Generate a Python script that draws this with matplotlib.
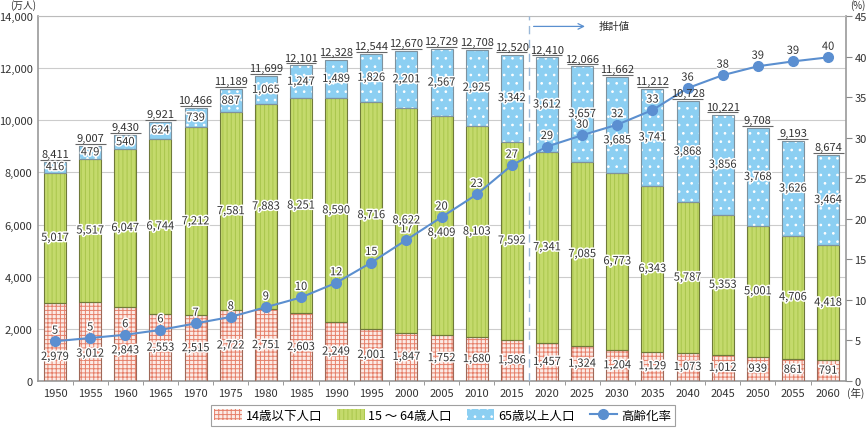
import numpy as np
import matplotlib
matplotlib.use("Agg")
import matplotlib.pyplot as plt
import matplotlib.patheffects as pe
from matplotlib.patches import Patch
from matplotlib.lines import Line2D

plt.rcParams['font.family'] = ['Noto Sans CJK JP', 'DejaVu Sans']
plt.rcParams['hatch.linewidth'] = 0.7

# data (万人, %)
years = [1950, 1955, 1960, 1965, 1970, 1975, 1980, 1985, 1990, 1995, 2000, 2005,
         2010, 2015, 2020, 2025, 2030, 2035, 2040, 2045, 2050, 2055, 2060]
under14 = [2979, 3012, 2843, 2553, 2515, 2722, 2751, 2603, 2249, 2001, 1847, 1752,
           1680, 1586, 1457, 1324, 1204, 1129, 1073, 1012, 939, 861, 791]
age15_64 = [5017, 5517, 6047, 6744, 7212, 7581, 7883, 8251, 8590, 8716, 8622, 8409,
            8103, 7592, 7341, 7085, 6773, 6343, 5787, 5353, 5001, 4706, 4418]
over65 = [416, 479, 540, 624, 739, 887, 1065, 1247, 1489, 1826, 2201, 2567,
          2925, 3342, 3612, 3657, 3685, 3741, 3868, 3856, 3768, 3626, 3464]
totals = [8411, 9007, 9430, 9921, 10466, 11189, 11699, 12101, 12328, 12544, 12670, 12729,
          12708, 12520, 12410, 12066, 11662, 11212, 10728, 10221, 9708, 9193, 8674]
aging_rate = [4.9, 5.3, 5.7, 6.3, 7.1, 7.9, 9.1, 10.3, 12.1, 14.6, 17.4, 20.2,
              23.0, 26.6, 28.9, 30.3, 31.6, 33.4, 36.1, 37.7, 38.8, 39.4, 39.9]
rate_labels = [5, 5, 6, 6, 7, 8, 9, 10, 12, 15, 17, 20, 23, 27, 29, 30, 32, 33, 36, 38, 39, 39, 40]

x = np.array(years, dtype=float)
u = np.array(under14, dtype=float)
m = np.array(age15_64, dtype=float)
o = np.array(over65, dtype=float)

fig = plt.figure(figsize=(8.66, 4.31), dpi=100)
ax = fig.add_axes([0.0439, 0.1137, 0.9331, 0.8469])
ax2 = ax.twinx()

w = 3.13
halo = [pe.withStroke(linewidth=2.2, foreground='white')]

red_style = ('#fcebe6', '++++', '#e6806a')
green_style = ('#c4da6c', '||||', '#a9c64c')
blue_style = ('#8ccff2', '..', 'white')

segs = [
    (u, np.zeros_like(u), red_style, '#a06858'),
    (m, u, green_style, '#6f7a3a'),
    (o, u + m, blue_style, '#7f929e'),
]
for vals, bot, (face, hatch, hcol), ecol in segs:
    ax.bar(x, vals, w, bottom=bot, color=face, hatch=hatch, edgecolor=hcol,
           linewidth=0, zorder=2)
    ax.bar(x, vals, w, bottom=bot, fill=False, edgecolor=ecol, linewidth=0.8, zorder=3)

ax.set_xlim(1947.58, 2062.56)
ax.set_ylim(0, 14000)
ax.set_yticks(np.arange(0, 14001, 2000))
ax.set_yticklabels([f'{v:,}' for v in range(0, 14001, 2000)])
ax.grid(axis='y', color='#cccccc', linewidth=0.8, zorder=0)
ax.set_axisbelow(True)
ax.set_xticks(years)
ax.set_xticks(x[:-1] + 2.5, minor=True)
ax.tick_params(axis='x', which='major', length=0, pad=5, labelsize=8, colors='#333333')
ax.tick_params(axis='x', which='minor', length=3, color='#888888')
ax.tick_params(axis='y', length=0, pad=4, labelsize=8, colors='#333333')
for s in ['left', 'bottom', 'right']:
    ax.spines[s].set_color('#999999')
    ax.spines[s].set_linewidth(1.2)
ax.spines['top'].set_color('#bbbbbb')

ax2.set_ylim(0, 45)
ax2.set_yticks(np.arange(0, 46, 5))
ax2.tick_params(axis='y', length=4, pad=2, labelsize=8, colors='#333333', color='#888888')
for s in ax2.spines.values():
    s.set_visible(False)

# projection marker
ax.axvline(2017.5, color='#9ab8d8', linestyle=(0, (6, 4)), linewidth=1, zorder=4)
ax.annotate('', xy=(2025.8, 13600), xytext=(2017.7, 13600),
            arrowprops=dict(arrowstyle='->', color='#5a8fcf', lw=0.9))
ax.text(2027.3, 13600, '推計値', fontsize=7.5, va='center', ha='left', color='#333333')

# aging rate line
ax2.plot(x, aging_rate, color='#5b8fcf', linewidth=1.5, marker='o', markersize=7,
         markerfacecolor='#5b8fd1', markeredgecolor='#5b8fd1', zorder=5)
for xi, r, lab in zip(x, aging_rate, rate_labels):
    ax2.annotate(str(lab), (xi, r), xytext=(0, 4), textcoords='offset points',
                 ha='center', va='bottom', fontsize=8, color='#333333', path_effects=halo,
                 zorder=6)

# segment labels
rate_eq = np.array(aging_rate) * 14000 / 45
for vals, bot in [(u, np.zeros_like(u)), (m, u), (o, u + m)]:
    for xi, v, b, req in zip(x, vals, bot, rate_eq):
        yc = b + v / 2
        if abs(req - yc) < 650:
            yc = req - 600 if req >= yc else req + 600
        ax2.text(xi, yc, f'{int(v):,}', transform=ax.transData, ha='center', va='center',
                 fontsize=8, color='#333333', path_effects=halo, zorder=7)

# totals with underline
for xi, t in zip(x, totals):
    ax.hlines(t + 80, xi - 2.2, xi + 2.2, color='#666666', linewidth=0.8, zorder=4)
    ax2.text(xi, t + 110, f'{t:,}', transform=ax.transData, ha='center', va='bottom',
             fontsize=8, color='#333333', zorder=7)

fig.text(0.012, 0.999, '(万人)', fontsize=7, ha='left', va='top', color='#333333')
fig.text(0.999, 0.999, '(%)', fontsize=7, ha='right', va='top', color='#333333')
fig.text(0.998, 0.088, '(年)', fontsize=7.5, ha='right', va='center', color='#333333')

handles = [
    Patch(facecolor=red_style[0], hatch=red_style[1], edgecolor=red_style[2], linewidth=0),
    Patch(facecolor=green_style[0], hatch=green_style[1], edgecolor=green_style[2], linewidth=0),
    Patch(facecolor=blue_style[0], hatch=blue_style[1], edgecolor=blue_style[2], linewidth=0),
    Line2D([0], [0], color='#5b8fcf', linewidth=1.5, marker='o', markersize=7),
]
leg = fig.legend(handles, ['14歳以下人口', '15 ～ 64歳人口', '65歳以上人口', '高齢化率'],
                 loc='center', bbox_to_anchor=(0.511, 0.034), ncol=4, fontsize=9,
                 frameon=True, fancybox=False, edgecolor='#888888', handlelength=2.2,
                 handleheight=0.9, handletextpad=0.3, columnspacing=1.2,
                 borderpad=0.3)
leg.get_frame().set_linewidth(0.8)

fig.savefig('out.png', dpi=100)
